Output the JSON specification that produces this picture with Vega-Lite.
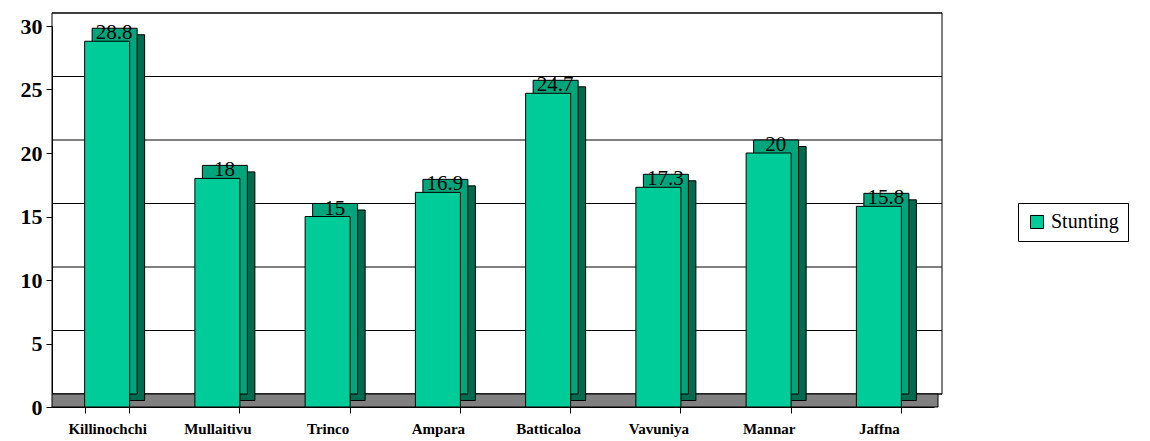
{
  "$schema": "https://vega.github.io/schema/vega-lite/v6.json",
  "autosize": {"type": "none"},
  "padding": {"left": 52, "top": 26, "right": 216, "bottom": 34},
  "width": 882,
  "height": 381,
  "background": "white",
  "config": {
    "view": {"stroke": null},
    "font": "Liberation Serif"
  },
  "datasets": {
    "bars": [
      {"district": "Killinochchi", "value": 28.8, "label": "28.8", "series": "Stunting"},
      {"district": "Mullaitivu", "value": 18, "label": "18", "series": "Stunting"},
      {"district": "Trinco", "value": 15, "label": "15", "series": "Stunting"},
      {"district": "Ampara", "value": 16.9, "label": "16.9", "series": "Stunting"},
      {"district": "Batticaloa", "value": 24.7, "label": "24.7", "series": "Stunting"},
      {"district": "Vavuniya", "value": 17.3, "label": "17.3", "series": "Stunting"},
      {"district": "Mannar", "value": 20, "label": "20", "series": "Stunting"},
      {"district": "Jaffna", "value": 15.8, "label": "15.8", "series": "Stunting"}
    ],
    "grid": [
      {"value": 0}, {"value": 5}, {"value": 10}, {"value": 15}, {"value": 20}, {"value": 25}, {"value": 30}
    ]
  },
  "data": {"name": "bars"},
  "layer": [
    {
      "data": {"name": "grid"},
      "mark": {"type": "rule", "color": "black", "strokeWidth": 1, "xOffset": 8, "x2Offset": 16, "yOffset": -13},
      "encoding": {
        "y": {"field": "value", "type": "quantitative", "scale": {"domain": [0, 30]},
          "axis": {
            "title": null, "values": [0, 5, 10, 15, 20, 25, 30], "labelFont": "Liberation Serif",
            "labelFontWeight": "bold", "labelFontSize": 22, "labelColor": "black",
            "domainColor": "black", "tickColor": "black", "tickSize": 6, "labelPadding": 4,
            "grid": false
          }
        }
      }
    },
    {
      "data": {"name": "grid"},
      "transform": [{"filter": "datum.value == 0"}],
      "mark": {"type": "rect", "fill": null, "stroke": "black", "strokeWidth": 1, "xOffset": 8, "x2Offset": 16, "yOffset": -13, "y2Offset": -13},
      "encoding": {
        "y": {"field": "value", "type": "quantitative"},
        "y2": {"datum": 30}
      }
    },
    {
      "data": {"name": "grid"},
      "transform": [{"filter": "datum.value == 0"}],
      "mark": {"type": "rect", "fill": "#808080", "stroke": "black", "strokeWidth": 1, "xOffset": 4, "x2Offset": 8, "yOffset": 0, "y2Offset": -13},
      "encoding": {
        "y": {"field": "value", "type": "quantitative"},
        "y2": {"datum": 0}
      }
    },
    {
      "mark": {"type": "bar", "width": 15, "xOffset": 30, "yOffset": -6.5, "y2Offset": -6.5, "color": "#006b4e", "stroke": "black", "strokeWidth": 1},
      "encoding": {
        "x": {
          "field": "district", "type": "nominal", "sort": null,
          "scale": {"paddingInner": 0.6, "paddingOuter": 0.3},
          "axis": {
            "title": null, "labelAngle": 0, "labelFont": "Liberation Serif", "labelFontWeight": "bold",
            "labelFontSize": 15, "labelColor": "black", "domainColor": "black", "tickColor": "black",
            "tickBand": "extent", "tickSize": 6, "labelPadding": 8
          }
        },
        "y": {"field": "value", "type": "quantitative"},
        "y2": {"datum": 0}
      }
    },
    {
      "mark": {"type": "bar", "width": 45, "xOffset": 7.5, "yOffset": -13, "color": "#00a57c", "stroke": "black", "strokeWidth": 1, "height": 13},
      "encoding": {
        "x": {"field": "district", "type": "nominal", "sort": null},
        "y": {"field": "value", "type": "quantitative"}
      }
    },
    {
      "mark": {"type": "bar", "width": 45, "stroke": "black", "strokeWidth": 1},
      "encoding": {
        "x": {"field": "district", "type": "nominal", "sort": null},
        "y": {"field": "value", "type": "quantitative"},
        "color": {
          "field": "series", "type": "nominal",
          "scale": {"range": ["#00cc99"]},
          "legend": {
            "title": null, "orient": "none", "legendX": 966, "legendY": 177,
            "labelFont": "Liberation Serif",
            "labelFontSize": 20, "labelColor": "black", "symbolType": "square", "symbolSize": 170,
            "symbolStrokeColor": "black", "symbolStrokeWidth": 1, "strokeColor": "black",
            "padding": 9, "labelLimit": 200
          }
        }
      }
    },
    {
      "mark": {"type": "text", "dx": 7, "dy": 2, "fontSize": 21, "font": "Liberation Serif", "color": "black", "baseline": "bottom"},
      "encoding": {
        "x": {"field": "district", "type": "nominal", "sort": null},
        "y": {"field": "value", "type": "quantitative"},
        "text": {"field": "label"}
      }
    }
  ]
}
